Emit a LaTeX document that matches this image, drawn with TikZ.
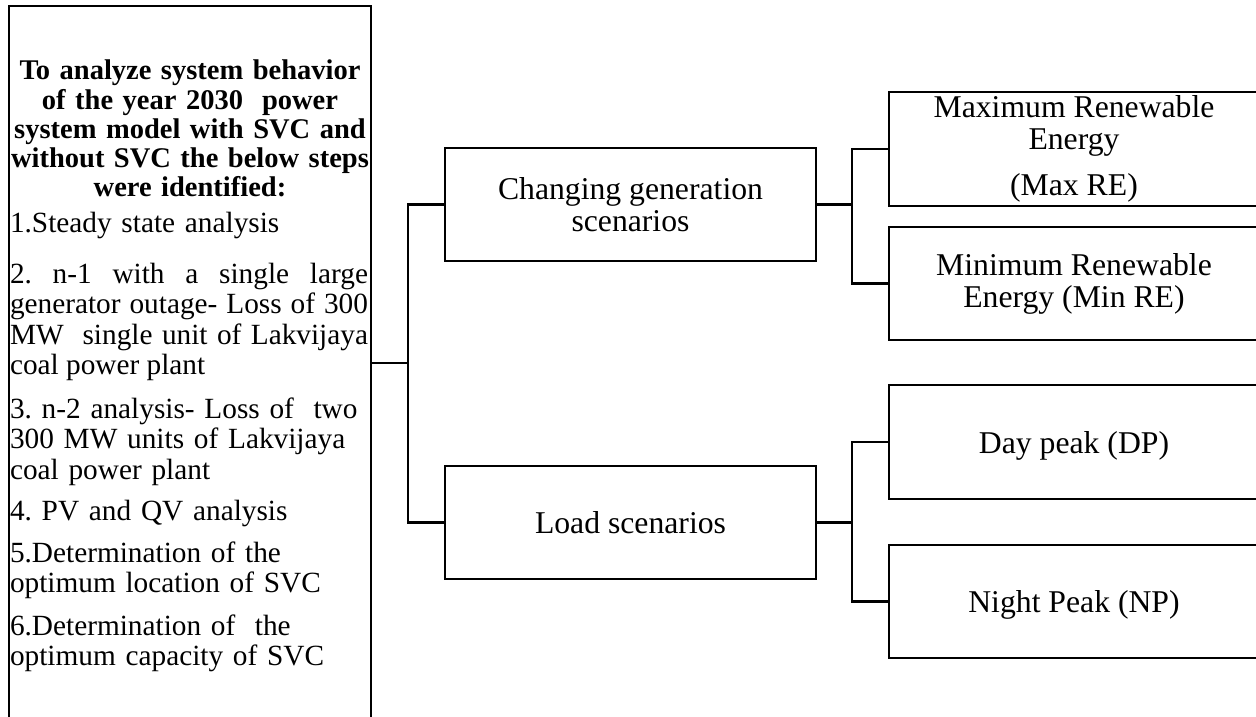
\documentclass[tikz,border=0pt]{standalone}
\usepackage{fontspec}
\setmainfont{Liberation Serif}
\usetikzlibrary{calc}
\frenchspacing
\begin{document}
\begin{tikzpicture}[x=1pt,y=-1pt,
  box/.style={draw, line width=2.5pt, rectangle, inner sep=0pt, outer sep=0pt, align=center, font=\fontsize{31.7}{32}\selectfont},
  onel/.style={text height=22pt, text depth=0pt},
  wire/.style={line width=2.5pt},
  lefttxt/.style={inner sep=0pt, outer sep=0pt, text width=358pt, anchor=base west, font=\fontsize{29.3}{30.5}\selectfont}
]
\useasboundingbox (0,0) rectangle (1256,717);
\clip (0,0) rectangle (1256,717);
% left panel
\node[box, minimum width=362pt, minimum height=714pt, anchor=north west] (left) at (9,6) {};
\node[lefttxt, text width=400pt, align=center, font=\fontsize{28.5}{29.25}\bfseries\selectfont] (title) at (-10,80) {To analyze system behavior\\of the year 2030\ \ power\\system model with SVC and\\without SVC the below steps\\were identified:};
\node[lefttxt, align=left] (s1) at (10,232) {1.Steady state analysis};
\node[lefttxt, align=justify] (s2) at (10,283) {2. n-1 with a single large\linebreak generator outage- Loss of 300\linebreak MW\ \ single unit of Lakvijaya\linebreak coal power plant};
\node[lefttxt, align=left] (s3) at (10,418) {3. n-2 analysis- Loss of\ \ two\\300 MW units of Lakvijaya\\coal power plant};
\node[lefttxt, align=left] (s4) at (10,520) {4. PV and QV analysis};
\node[lefttxt, align=left] (s5) at (10,562) {5.Determination of the\\optimum location of SVC};
\node[lefttxt, align=left] (s6) at (10,635) {6.Determination of\ \ the\\optimum capacity of SVC};
% middle boxes
\node[box, minimum width=371pt, minimum height=113pt] (gen) at (630.5,204.5) {Changing generation\\scenarios};
\node[box, onel, minimum width=371pt, minimum height=113pt] (load) at (630.5,522.5) {Load scenarios};
% right boxes
\node[box, minimum width=370pt, minimum height=114pt] (maxre) at (1074,149) {Maximum Renewable\\Energy\\[14pt](Max RE)};
\node[box, minimum width=370pt, minimum height=113pt] (minre) at (1074,283.5) {Minimum Renewable\\Energy (Min RE)};
\node[box, onel, minimum width=370pt, minimum height=114pt] (dp) at (1074,442) {Day peak (DP)};
\node[box, onel, minimum width=370pt, minimum height=113pt] (np) at (1074,601.5) {Night Peak (NP)};
% connectors
\coordinate (jl) at ($(left.east)+(37,0)$);
\draw[wire] (left.east) -- (jl);
\draw[wire] (gen.west) -| (jl) |- (load.west);
\coordinate (jg) at ($(gen.east)+(36,0)$);
\draw[wire] (gen.east) -- (jg);
\draw[wire] (maxre.west) -| (jg) |- (minre.west);
\coordinate (jd) at ($(load.east)+(36,0)$);
\draw[wire] (load.east) -- (jd);
\draw[wire] (dp.west) -| (jd) |- (np.west);
\end{tikzpicture}
\end{document}
